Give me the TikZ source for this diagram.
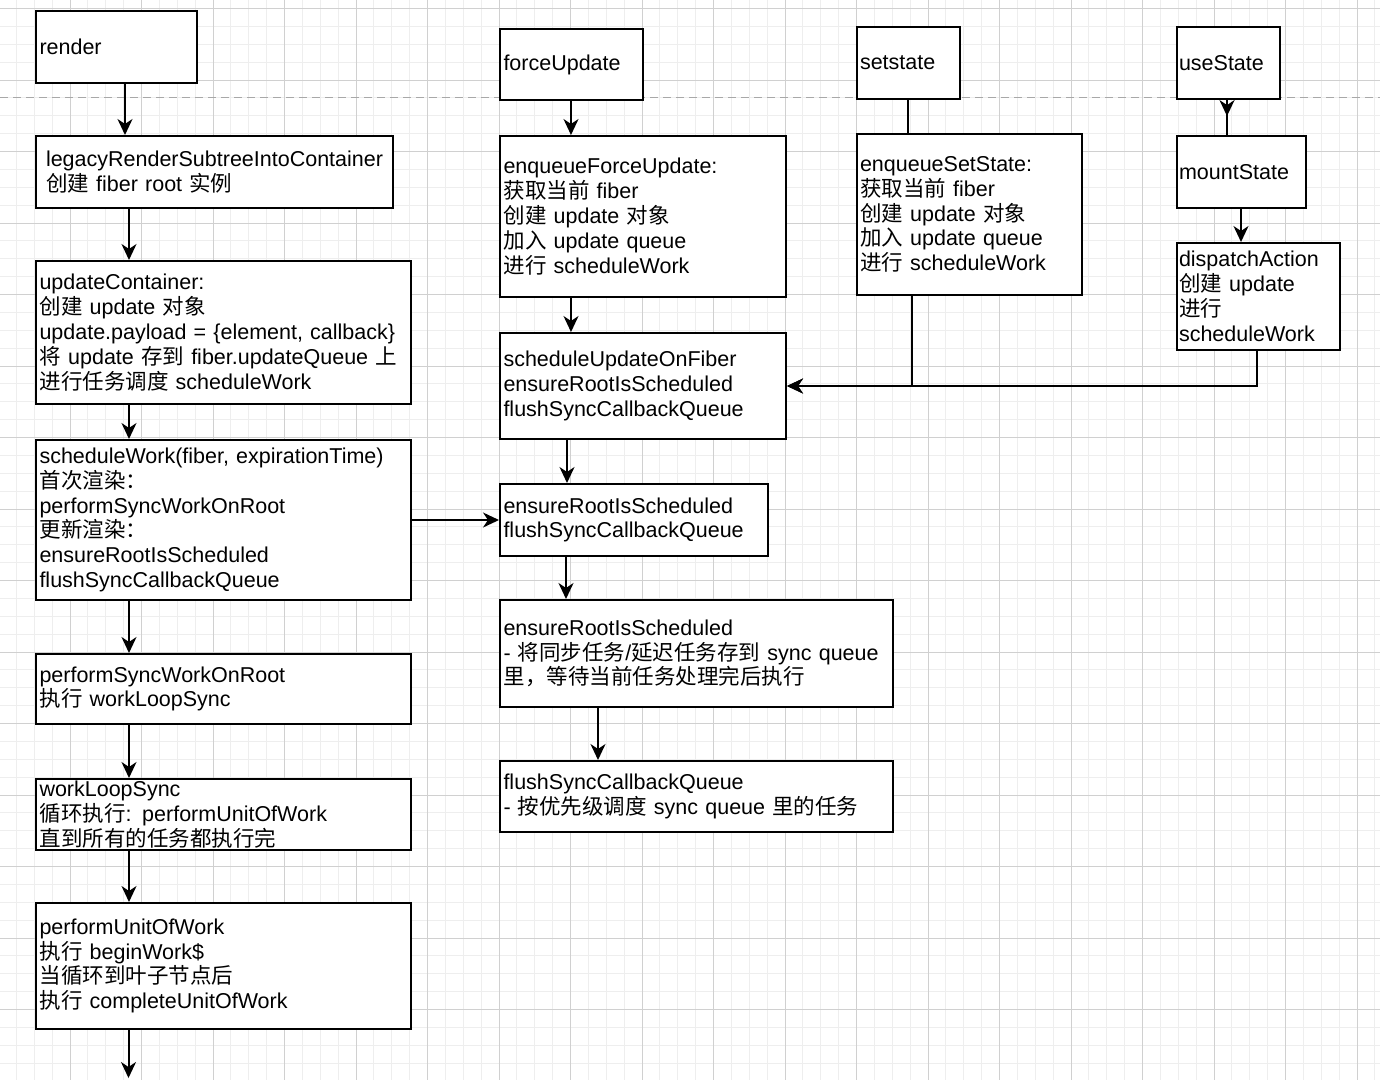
\documentclass[tikz,border=0pt]{standalone}
\usepackage{fontspec}
\setmainfont{Liberation Sans}
\newfontfamily\cjk{Noto Sans CJK SC}
\usepackage{tikz}
\usetikzlibrary{arrows.meta,decorations.markings}
\definecolor{GridMinor}{HTML}{EEEEEE}
\definecolor{GridMajor}{HTML}{D0D0D0}
\definecolor{SepGray}{HTML}{A8A8A8}
\newcommand{\zh}[1]{{\cjk #1}}
\tikzset{
  FB/.style={rectangle,draw=black,line width=2pt,fill=white,anchor=north west,
             align=left,inner xsep=3.5pt,inner ysep=0pt,
             font={\fontsize{21.5pt}{24.8pt}\selectfont}},
  arr/.style={-{Stealth[length=16pt,width=15pt,inset=5pt]},line width=2pt},
  ln/.style={line width=2pt},
  midarr/.style={ln,postaction={decorate},
             decoration={markings,mark=at position 0.46 with
               {\arrow{Stealth[length=16pt,width=15pt,inset=5pt]}}}},
  gMin/.style={draw=GridMinor,line width=1pt},
  gMaj/.style={draw=GridMajor,line width=1pt},
  sep/.style={draw=SepGray,line width=1.5pt,dash pattern=on 8pt off 5pt}
}

\begin{document}
\begin{tikzpicture}[x=1pt,y=-1pt]
  \useasboundingbox[fill=white] (0,0) rectangle (1380,1080);
  \foreach \i in {0,...,77} {\draw[gMin] ({-1.5+17.875*\i},0) -- ++(0,1080);}
  \foreach \j in {0,...,60} {\draw[gMin] (0,{8.5+17.875*\j}) -- ++(1380,0);}
  \foreach \i in {0,...,19} {\draw[gMaj] ({-1.5+71.5*\i},0) -- ++(0,1080);}
  \foreach \j in {0,...,15} {\draw[gMaj] (0,{8.5+71.5*\j}) -- ++(1380,0);}
  \draw[sep] (0,97.7) -- (1380,97.7);

  \node[FB,text width=154pt,minimum height=72pt] (render) at (35,10) {render};
  \node[FB,inner xsep=10pt,text width=337pt,minimum height=72pt] (legacy) at (35,135)
    {legacyRenderSubtreeIntoContainer\\\zh{创建} fiber root \zh{实例}};
  \node[FB,text width=368pt,minimum height=143pt] (update) at (35,260)
    {updateContainer:\\\zh{创建} update \zh{对象}\\update.payload = \{element, callback\}\\
     \zh{将} update \zh{存到} fiber.updateQueue \zh{上}\\\zh{进行任务调度} scheduleWork};
  \node[FB,text width=368pt,minimum height=160pt] (sched) at (35,439)
    {scheduleWork(fiber, expirationTime)\\\zh{首次渲染：}\\performSyncWorkOnRoot\\
     \zh{更新渲染：}\\ensureRootIsScheduled\\flushSyncCallbackQueue};
  \node[FB,text width=368pt,minimum height=70pt] (perfSync) at (35,653)
    {performSyncWorkOnRoot\\\zh{执行} workLoopSync};
  \node[FB,text width=368pt,minimum height=71pt] (workLoop) at (35,778)
    {workLoopSync\\\zh{循环执行}: performUnitOfWork\\\zh{直到所有的任务都执行完}};
  \node[FB,text width=368pt,minimum height=126pt] (perfUnit) at (35,902)
    {performUnitOfWork\\\zh{执行} beginWork\$\\\zh{当循环到叶子节点后}\\\zh{执行} completeUnitOfWork};
  \coordinate (tail) at (128.5,1078);

  \node[FB,text width=136pt,minimum height=71pt] (forceUpdate) at (499,28) {forceUpdate};
  \node[FB,text width=279pt,minimum height=161pt] (enqForce) at (499,135)
    {enqueueForceUpdate:\\\zh{获取当前} fiber\\\zh{创建} update \zh{对象}\\
     \zh{加入} update queue\\\zh{进行} scheduleWork};
  \node[FB,text width=279pt,minimum height=106pt] (schedUpd) at (499,332)
    {scheduleUpdateOnFiber\\ensureRootIsScheduled\\flushSyncCallbackQueue};
  \node[FB,text width=261pt,minimum height=72pt] (ensureA) at (499,483)
    {ensureRootIsScheduled\\flushSyncCallbackQueue};
  \node[FB,text width=386pt,minimum height=107pt] (ensureB) at (499,599)
    {ensureRootIsScheduled\\- \zh{将同步任务}/\zh{延迟任务存到} sync queue\\\zh{里，等待当前任务处理完后执行}};
  \node[FB,text width=386pt,minimum height=71pt] (flush) at (499,760)
    {flushSyncCallbackQueue\\- \zh{按优先级调度} sync queue \zh{里的任务}};

  \node[FB,inner xsep=3pt,text width=97pt,minimum height=72pt] (setstate) at (856,26) {setstate};
  \node[FB,inner xsep=3pt,text width=219pt,minimum height=161pt] (enqSet) at (856,133)
    {enqueueSetState:\\\zh{获取当前} fiber\\\zh{创建} update \zh{对象}\\
     \zh{加入} update queue\\\zh{进行} scheduleWork};
  \node[FB,inner xsep=2pt,text width=99pt,minimum height=72pt] (useState) at (1176,26) {useState};
  \node[FB,inner xsep=2pt,text width=125pt,minimum height=72pt] (mountState) at (1176,135) {mountState};
  \node[FB,inner xsep=2pt,text width=159pt,minimum height=107pt] (dispatch) at (1176,242)
    {dispatchAction\\\zh{创建} update\\\zh{进行}\\scheduleWork};

  \draw[arr] ([xshift=90pt]render.south west) -- ([xshift=90pt]legacy.north west);
  \draw[arr] ([xshift=94pt]legacy.south west) -- ([xshift=94pt]update.north west);
  \draw[arr] ([xshift=94pt]update.south west) -- ([xshift=94pt]sched.north west);
  \draw[arr] ([xshift=94pt]sched.south west) -- ([xshift=94pt]perfSync.north west);
  \draw[arr] ([xshift=94pt]perfSync.south west) -- ([xshift=94pt]workLoop.north west);
  \draw[arr] ([xshift=94pt]workLoop.south west) -- ([xshift=94pt]perfUnit.north west);
  \draw[arr] (perfUnit.south west -| tail) -- (tail);
  \draw[arr] (sched.east) -- (ensureA.west);

  \draw[arr] ([xshift=72pt]forceUpdate.south west) -- ([xshift=72pt]enqForce.north west);
  \draw[arr] ([xshift=72pt]enqForce.south west) -- ([xshift=72pt]schedUpd.north west);
  \draw[arr] ([xshift=68pt]schedUpd.south west) -- ([xshift=68pt]ensureA.north west);
  \draw[arr] ([xshift=67pt]ensureA.south west) -- ([xshift=67pt]ensureB.north west);
  \draw[arr] ([xshift=99pt]ensureB.south west) -- ([xshift=99pt]flush.north west);

  \draw[ln] ([xshift=52pt]setstate.south west) -- ([xshift=52pt]enqSet.north west);
  \draw[arr] ([xshift=56pt]enqSet.south west) |- (schedUpd.east);
  \draw[midarr] ([xshift=51pt]useState.south west) -- ([xshift=51pt]mountState.north west);
  \draw[arr] ([xshift=65pt]mountState.south west) -- ([xshift=65pt]dispatch.north west);
  \draw[arr] ([xshift=81pt]dispatch.south west) |- (schedUpd.east);
\end{tikzpicture}
\end{document}
